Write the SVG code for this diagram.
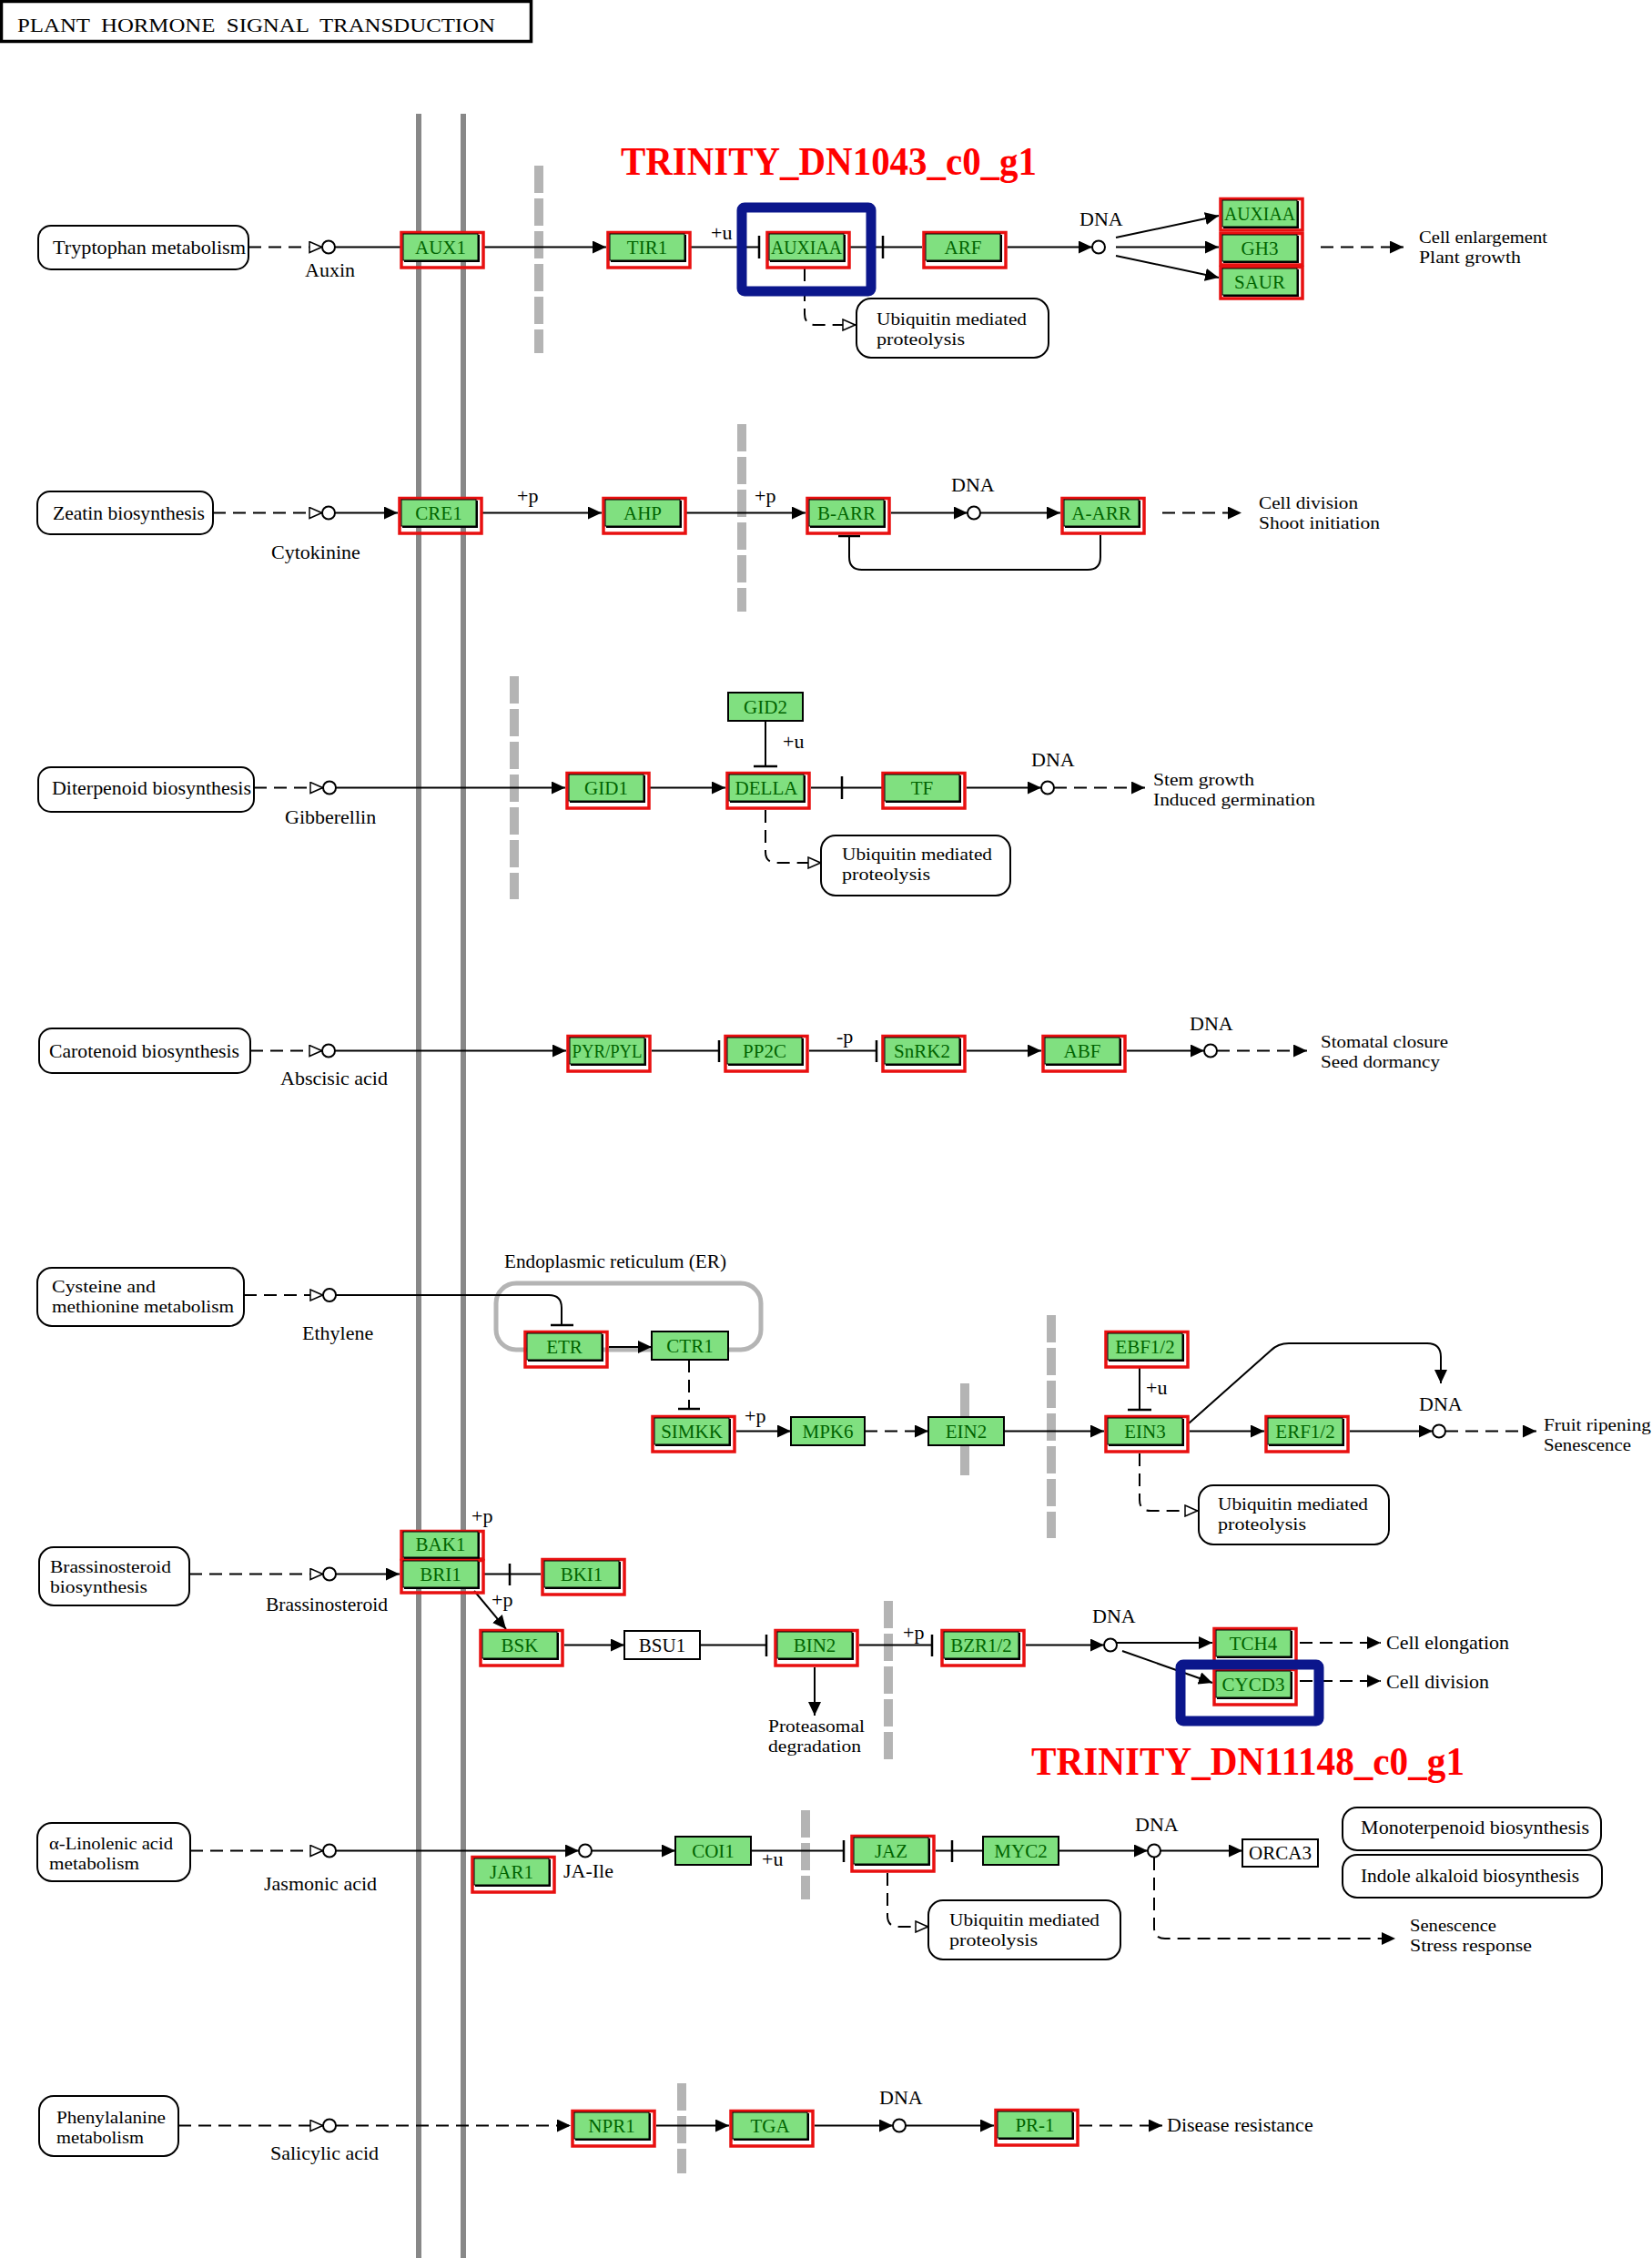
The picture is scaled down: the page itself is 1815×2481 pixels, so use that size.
<svg xmlns="http://www.w3.org/2000/svg" width="1815" height="2481" viewBox="0 0 1815 2481">
<defs>
<style>
.ln{fill:none;stroke:#000;stroke-width:2}
.dl{fill:none;stroke:#000;stroke-width:2;stroke-dasharray:14 8}
.br{fill:none;stroke:#000;stroke-width:2.5}
.t{font-family:"Liberation Serif","Times New Roman",serif;font-size:22px;fill:#000}
.t2{font-family:"Liberation Serif","Times New Roman",serif;font-size:19px;fill:#000}
.gl{font-family:"Liberation Serif","Times New Roman",serif;font-size:21px;fill:#006400;text-anchor:middle}
.wl{font-family:"Liberation Serif","Times New Roman",serif;font-size:21px;fill:#000;text-anchor:middle}
.gb{fill:#80e080;stroke:#000;stroke-width:1}
.pb{fill:#80e080;stroke:#000;stroke-width:2}
.wb{fill:#fff;stroke:#000;stroke-width:2}
.hl{fill:none;stroke:#e81010;stroke-width:3.5}
.sh{fill:none;stroke:#000;stroke-width:2}
.mp{fill:#fff;stroke:#000;stroke-width:2}
.c{fill:#fff;stroke:#000;stroke-width:2}
.mem{stroke:#888;stroke-width:6}
.gbar{stroke:#b4b4b4;stroke-width:10;stroke-dasharray:30 6}
.blue{fill:none;stroke:#0b168c;stroke-width:11}
.tr{font-family:"Liberation Serif","Times New Roman",serif;font-weight:bold;font-size:44px;fill:#ff0000}
</style>
<marker id="a" markerWidth="15" markerHeight="14" refX="15" refY="7" orient="auto" markerUnits="userSpaceOnUse"><path d="M0,0 L15,7 L0,14 Z" fill="#000"/></marker>
<marker id="o" markerWidth="16" markerHeight="14" refX="15" refY="7" orient="auto" markerUnits="userSpaceOnUse"><path d="M1,1 L14.5,7 L1,13 Z" fill="#fff" stroke="#000" stroke-width="1.5"/></marker>
</defs>
<rect width="1815" height="2481" fill="#fff"/>

<g id="title">
<rect x="1.5" y="1.5" width="582" height="44" fill="#fff" stroke="#000" stroke-width="3.5"/>
<text class="t" x="19" y="35" font-size="26" textLength="525" lengthAdjust="spacingAndGlyphs" xml:space="preserve">PLANT  HORMONE  SIGNAL  TRANSDUCTION</text>
</g>

<g id="membranes">
<line class="mem" x1="460" y1="125" x2="460" y2="2481"/>
<line class="mem" x1="509" y1="125" x2="509" y2="2481"/>
<line class="gbar" x1="592" y1="182" x2="592" y2="388"/>
<line class="gbar" x1="815" y1="466" x2="815" y2="672"/>
<line class="gbar" x1="565" y1="743" x2="565" y2="988"/>
<line class="gbar" x1="1155" y1="1445" x2="1155" y2="1690"/>
<line stroke="#b4b4b4" stroke-width="10" x1="1060" y1="1520" x2="1060" y2="1621"/>
<line class="gbar" x1="976" y1="1759" x2="976" y2="1933"/>
<line class="gbar" x1="885" y1="1989" x2="885" y2="2087"/>
<line class="gbar" x1="749" y1="2289" x2="749" y2="2388"/>
<rect x="545" y="1410" width="291" height="73" rx="22" fill="none" stroke="#b4b4b4" stroke-width="5"/>
</g>

<g id="connectors">
<!-- row 1 -->
<path class="dl" d="M273,271.5H354" marker-end="url(#o)"/>
<path class="ln" d="M368,271.5H441"/>
<path class="ln" d="M531,271.5H666" marker-end="url(#a)"/>
<path class="ln" d="M757,271.5H834"/><path class="br" d="M834,259V284"/>
<path class="ln" d="M934,271.5H1013"/><path class="br" d="M970,259V284"/>
<path class="ln" d="M1107,271.5H1200" marker-end="url(#a)"/>
<path class="ln" d="M1226,261L1339,237" marker-end="url(#a)"/>
<path class="ln" d="M1226,271.5H1339" marker-end="url(#a)"/>
<path class="ln" d="M1226,281L1339,305" marker-end="url(#a)"/>
<path class="dl" d="M1451,271.5H1542" marker-end="url(#a)"/>
<path class="dl" d="M884,295V345Q884,357 896,357H940" marker-end="url(#o)"/>
<!-- row 2 -->
<path class="dl" d="M234,563.5H354" marker-end="url(#o)"/>
<path class="ln" d="M368,563.5H437" marker-end="url(#a)"/>
<path class="ln" d="M530,563.5H661" marker-end="url(#a)"/>
<path class="ln" d="M754,563.5H885" marker-end="url(#a)"/>
<path class="ln" d="M979,563.5H1063" marker-end="url(#a)"/>
<path class="ln" d="M1077,563.5H1165" marker-end="url(#a)"/>
<path class="dl" d="M1277,563.5H1364" marker-end="url(#a)"/>
<path class="ln" d="M1209,588V612Q1209,626 1195,626H947Q933,626 933,612V590"/><path class="br" d="M921,589H945"/>
<!-- row 3 -->
<path class="dl" d="M279,865.5H355" marker-end="url(#o)"/>
<path class="ln" d="M369,865.5H621" marker-end="url(#a)"/>
<path class="ln" d="M714,865.5H797" marker-end="url(#a)"/>
<path class="ln" d="M841,792V842"/><path class="br" d="M828,842H854"/>
<path class="ln" d="M891,865.5H970"/><path class="br" d="M925,853V878"/>
<path class="ln" d="M1062,865.5H1144" marker-end="url(#a)"/>
<path class="dl" d="M1158,865.5H1258" marker-end="url(#a)"/>
<path class="dl" d="M841,890V936Q841,948 853,948H902" marker-end="url(#o)"/>
<!-- row 4 -->
<path class="dl" d="M275,1154.5H354" marker-end="url(#o)"/>
<path class="ln" d="M368,1154.5H622" marker-end="url(#a)"/>
<path class="ln" d="M716,1154.5H790"/><path class="br" d="M790,1143V1167"/>
<path class="ln" d="M889,1154.5H963"/><path class="br" d="M963,1143V1167"/>
<path class="ln" d="M1062,1154.5H1144" marker-end="url(#a)"/>
<path class="ln" d="M1238,1154.5H1323" marker-end="url(#a)"/>
<path class="dl" d="M1337,1154.5H1436" marker-end="url(#a)"/>
<!-- row 5 -->
<path class="dl" d="M268,1423H355" marker-end="url(#o)"/>
<path class="ln" d="M369,1423H603Q617,1423 617,1437V1456"/><path class="br" d="M605,1456H630"/>
<path class="ln" d="M669,1480H716" marker-end="url(#a)"/>
<path class="dl" d="M757,1494V1548"/><path class="br" d="M745,1548H769"/>
<path class="ln" d="M809,1572.5H869" marker-end="url(#a)"/>
<path class="dl" d="M950,1572.5H1020" marker-end="url(#a)"/>
<path class="ln" d="M1103,1572.5H1213" marker-end="url(#a)"/>
<path class="ln" d="M1252,1502V1549"/><path class="br" d="M1239,1549H1265"/>
<path class="ln" d="M1307,1572.5H1389" marker-end="url(#a)"/>
<path class="ln" d="M1483,1572.5H1574" marker-end="url(#a)"/>
<path class="dl" d="M1588,1572.5H1688" marker-end="url(#a)"/>
<path class="ln" d="M1306,1564L1396,1484Q1404,1476 1416,1476H1568Q1583,1476 1583,1491V1520" marker-end="url(#a)"/>
<path class="dl" d="M1252,1597V1648Q1252,1660 1264,1660H1316" marker-end="url(#o)"/>
<!-- row 6 -->
<path class="dl" d="M208,1729.5H355" marker-end="url(#o)"/>
<path class="ln" d="M369,1729.5H439" marker-end="url(#a)"/>
<path class="ln" d="M531,1729.5H594"/><path class="br" d="M560,1718V1742"/>
<path class="ln" d="M521,1748L556,1790" marker-end="url(#a)"/>
<path class="ln" d="M620,1807.5H686" marker-end="url(#a)"/>
<path class="ln" d="M769,1807.5H842"/><path class="br" d="M842,1796V1820"/>
<path class="ln" d="M895,1832V1885" marker-end="url(#a)"/>
<path class="ln" d="M944,1807.5H1024"/><path class="br" d="M1024,1796V1820"/>
<path class="ln" d="M1127,1807.5H1213" marker-end="url(#a)"/>
<path class="ln" d="M1227,1805H1332" marker-end="url(#a)"/>
<path class="ln" d="M1233,1814L1332,1849" marker-end="url(#a)"/>
<path class="dl" d="M1428,1805H1517" marker-end="url(#a)"/>
<path class="dl" d="M1428,1847H1517" marker-end="url(#a)"/>
<!-- row 7 -->
<path class="dl" d="M209,2033.5H355" marker-end="url(#o)"/>
<path class="ln" d="M369,2033.5H636" marker-end="url(#a)"/>
<path class="ln" d="M650,2033.5H742" marker-end="url(#a)"/>
<path class="ln" d="M825,2033.5H927"/><path class="br" d="M927,2022V2046"/>
<path class="ln" d="M1028,2033.5H1080"/><path class="br" d="M1046,2022V2046"/>
<path class="ln" d="M1163,2033.5H1261" marker-end="url(#a)"/>
<path class="ln" d="M1275,2033.5H1365" marker-end="url(#a)"/>
<path class="dl" d="M1268,2041V2118Q1268,2130 1280,2130H1533" marker-end="url(#a)"/>
<path class="dl" d="M975,2058V2105Q975,2117 987,2117H1020" marker-end="url(#o)"/>
<!-- row 8 -->
<path class="dl" d="M196,2335.5H355" marker-end="url(#o)"/>
<path class="dl" d="M369,2335.5H627" marker-end="url(#a)"/>
<path class="ln" d="M721,2335.5H801" marker-end="url(#a)"/>
<path class="ln" d="M895,2335.5H981" marker-end="url(#a)"/>
<path class="ln" d="M995,2335.5H1092" marker-end="url(#a)"/>
<path class="dl" d="M1186,2335.5H1277" marker-end="url(#a)"/>
<!-- compound circles -->
<circle class="c" cx="361" cy="271.5" r="7"/>
<circle class="c" cx="1207" cy="271.5" r="7"/>
<circle class="c" cx="361" cy="563.5" r="7"/>
<circle class="c" cx="1070" cy="563.5" r="7"/>
<circle class="c" cx="362" cy="865.5" r="7"/>
<circle class="c" cx="1151" cy="865.5" r="7"/>
<circle class="c" cx="361" cy="1154.5" r="7"/>
<circle class="c" cx="1330" cy="1154.5" r="7"/>
<circle class="c" cx="362" cy="1423" r="7"/>
<circle class="c" cx="1581" cy="1572.5" r="7"/>
<circle class="c" cx="362" cy="1729.5" r="7"/>
<circle class="c" cx="1220" cy="1807.5" r="7"/>
<circle class="c" cx="362" cy="2033.5" r="7"/>
<circle class="c" cx="643" cy="2033.5" r="7"/>
<circle class="c" cx="1268" cy="2033.5" r="7"/>
<circle class="c" cx="362" cy="2335.5" r="7"/>
<circle class="c" cx="988" cy="2335.5" r="7"/>
</g>

<g id="maps">
<g id="m-trp"><rect class="mp" x="42" y="248" width="231" height="48" rx="14"/><text class="t" x="58" y="279" textLength="212" lengthAdjust="spacingAndGlyphs">Tryptophan metabolism</text></g>
<g id="m-zea"><rect class="mp" x="41" y="540" width="193" height="47" rx="14"/><text class="t" x="58" y="571" textLength="167" lengthAdjust="spacingAndGlyphs">Zeatin biosynthesis</text></g>
<g id="m-dit"><rect class="mp" x="42" y="843" width="237" height="49" rx="14"/><text class="t" x="57" y="873" textLength="219" lengthAdjust="spacingAndGlyphs">Diterpenoid biosynthesis</text></g>
<g id="m-car"><rect class="mp" x="43" y="1130" width="232" height="49" rx="14"/><text class="t" x="54" y="1162" textLength="209" lengthAdjust="spacingAndGlyphs">Carotenoid biosynthesis</text></g>
<g id="m-cys"><rect class="mp" x="41" y="1393" width="227" height="64" rx="16"/><text class="t2" x="57" y="1420" textLength="114" lengthAdjust="spacingAndGlyphs">Cysteine and</text><text class="t2" x="57" y="1441.5" textLength="200" lengthAdjust="spacingAndGlyphs">methionine metabolism</text></g>
<g id="m-bra"><rect class="mp" x="43" y="1700" width="165" height="64" rx="16"/><text class="t2" x="55" y="1728" textLength="133" lengthAdjust="spacingAndGlyphs">Brassinosteroid</text><text class="t2" x="55" y="1749.5" textLength="107" lengthAdjust="spacingAndGlyphs">biosynthesis</text></g>
<g id="m-lin"><rect class="mp" x="41" y="2003" width="168" height="64" rx="16"/><text class="t2" x="54" y="2032" textLength="136" lengthAdjust="spacingAndGlyphs">α-Linolenic acid</text><text class="t2" x="54" y="2053.5" textLength="99" lengthAdjust="spacingAndGlyphs">metabolism</text></g>
<g id="m-phe"><rect class="mp" x="43" y="2303" width="153" height="66" rx="16"/><text class="t2" x="62" y="2333" textLength="120" lengthAdjust="spacingAndGlyphs">Phenylalanine</text><text class="t2" x="62" y="2354.5" textLength="96" lengthAdjust="spacingAndGlyphs">metabolism</text></g>
<g id="m-ub1"><rect class="mp" x="941" y="328" width="211" height="65" rx="16"/><text class="t2" x="963" y="357" textLength="165" lengthAdjust="spacingAndGlyphs">Ubiquitin mediated</text><text class="t2" x="963" y="378.5" textLength="97" lengthAdjust="spacingAndGlyphs">proteolysis</text></g>
<g id="m-ub3"><rect class="mp" x="902" y="918" width="208" height="66" rx="16"/><text class="t2" x="925" y="945" textLength="165" lengthAdjust="spacingAndGlyphs">Ubiquitin mediated</text><text class="t2" x="925" y="966.5" textLength="97" lengthAdjust="spacingAndGlyphs">proteolysis</text></g>
<g id="m-ub5"><rect class="mp" x="1317" y="1632" width="209" height="65" rx="16"/><text class="t2" x="1338" y="1659" textLength="165" lengthAdjust="spacingAndGlyphs">Ubiquitin mediated</text><text class="t2" x="1338" y="1680.5" textLength="97" lengthAdjust="spacingAndGlyphs">proteolysis</text></g>
<g id="m-ub7"><rect class="mp" x="1020" y="2088" width="211" height="65" rx="16"/><text class="t2" x="1043" y="2116" textLength="165" lengthAdjust="spacingAndGlyphs">Ubiquitin mediated</text><text class="t2" x="1043" y="2137.5" textLength="97" lengthAdjust="spacingAndGlyphs">proteolysis</text></g>
<g id="m-mono"><rect class="mp" x="1475" y="1986" width="284" height="47" rx="16"/><text class="t" x="1495" y="2015" textLength="251" lengthAdjust="spacingAndGlyphs">Monoterpenoid biosynthesis</text></g>
<g id="m-ind"><rect class="mp" x="1475" y="2038" width="285" height="47" rx="16"/><text class="t" x="1495" y="2068" textLength="240" lengthAdjust="spacingAndGlyphs">Indole alkaloid biosynthesis</text></g>
</g>

<g id="genes">
<g id="AUX1"><rect class="hl" x="441" y="255.5" width="90" height="38.5"/><rect class="gb" x="443" y="257" width="82" height="29"/><path class="sh" d="M444,287H526V258"/><text class="gl" x="484" y="279">AUX1</text></g>
<g id="TIR1"><rect class="hl" x="668" y="255.5" width="90" height="38.5"/><rect class="gb" x="670" y="257" width="82" height="29"/><path class="sh" d="M671,287H753V258"/><text class="gl" x="711" y="279">TIR1</text></g>
<g id="AUXIAA-1"><rect class="hl" x="843" y="255.5" width="90" height="38.5"/><rect class="gb" x="845" y="257" width="82" height="29"/><path class="sh" d="M846,287H928V258"/><text class="gl" x="886" y="279" textLength="78" lengthAdjust="spacingAndGlyphs">AUXIAA</text></g>
<g id="ARF"><rect class="hl" x="1015" y="255.5" width="90" height="38.5"/><rect class="gb" x="1017" y="257" width="82" height="29"/><path class="sh" d="M1018,287H1100V258"/><text class="gl" x="1058" y="279">ARF</text></g>
<g id="AUXIAA-2"><rect class="hl" x="1341" y="218.5" width="90" height="34.5"/><rect class="gb" x="1343" y="220" width="82" height="29"/><path class="sh" d="M1344,250H1426V221"/><text class="gl" x="1384" y="242" textLength="78" lengthAdjust="spacingAndGlyphs">AUXIAA</text></g>
<g id="GH3"><rect class="hl" x="1341" y="256.5" width="90" height="34.5"/><rect class="gb" x="1343" y="258" width="82" height="29"/><path class="sh" d="M1344,288H1426V259"/><text class="gl" x="1384" y="280">GH3</text></g>
<g id="SAUR"><rect class="hl" x="1341" y="293.5" width="90" height="34.5"/><rect class="gb" x="1343" y="295" width="82" height="29"/><path class="sh" d="M1344,325H1426V296"/><text class="gl" x="1384" y="317">SAUR</text></g>
<g id="CRE1"><rect class="hl" x="439" y="547.5" width="90" height="38.5"/><rect class="gb" x="441" y="549" width="82" height="29"/><path class="sh" d="M442,579H524V550"/><text class="gl" x="482" y="571">CRE1</text></g>
<g id="AHP"><rect class="hl" x="663" y="547.5" width="90" height="38.5"/><rect class="gb" x="665" y="549" width="82" height="29"/><path class="sh" d="M666,579H748V550"/><text class="gl" x="706" y="571">AHP</text></g>
<g id="B-ARR"><rect class="hl" x="887" y="547.5" width="90" height="38.5"/><rect class="gb" x="889" y="549" width="82" height="29"/><path class="sh" d="M890,579H972V550"/><text class="gl" x="930" y="571">B-ARR</text></g>
<g id="A-ARR"><rect class="hl" x="1167" y="547.5" width="90" height="38.5"/><rect class="gb" x="1169" y="549" width="82" height="29"/><path class="sh" d="M1170,579H1252V550"/><text class="gl" x="1210" y="571">A-ARR</text></g>
<g id="GID1"><rect class="hl" x="623" y="849.5" width="90" height="38.5"/><rect class="gb" x="625" y="851" width="82" height="29"/><path class="sh" d="M626,881H708V852"/><text class="gl" x="666" y="873">GID1</text></g>
<g id="DELLA"><rect class="hl" x="799" y="849.5" width="90" height="38.5"/><rect class="gb" x="801" y="851" width="82" height="29"/><path class="sh" d="M802,881H884V852"/><text class="gl" x="842" y="873">DELLA</text></g>
<g id="TF"><rect class="hl" x="970" y="849.5" width="90" height="38.5"/><rect class="gb" x="972" y="851" width="82" height="29"/><path class="sh" d="M973,881H1055V852"/><text class="gl" x="1013" y="873">TF</text></g>
<g id="GID2"><rect class="pb" x="800" y="761" width="82" height="31"/><text class="gl" x="841" y="784">GID2</text></g>
<g id="PYR-PYL"><rect class="hl" x="624" y="1138.5" width="90" height="38.5"/><rect class="gb" x="626" y="1140" width="82" height="29"/><path class="sh" d="M627,1170H709V1141"/><text class="gl" x="667" y="1162" textLength="77" lengthAdjust="spacingAndGlyphs">PYR/PYL</text></g>
<g id="PP2C"><rect class="hl" x="797" y="1138.5" width="90" height="38.5"/><rect class="gb" x="799" y="1140" width="82" height="29"/><path class="sh" d="M800,1170H882V1141"/><text class="gl" x="840" y="1162">PP2C</text></g>
<g id="SnRK2"><rect class="hl" x="970" y="1138.5" width="90" height="38.5"/><rect class="gb" x="972" y="1140" width="82" height="29"/><path class="sh" d="M973,1170H1055V1141"/><text class="gl" x="1013" y="1162">SnRK2</text></g>
<g id="ABF"><rect class="hl" x="1146" y="1138.5" width="90" height="38.5"/><rect class="gb" x="1148" y="1140" width="82" height="29"/><path class="sh" d="M1149,1170H1231V1141"/><text class="gl" x="1189" y="1162">ABF</text></g>
<g id="ETR"><rect class="hl" x="577" y="1463.5" width="90" height="38.5"/><rect class="gb" x="579" y="1465" width="82" height="29"/><path class="sh" d="M580,1495H662V1466"/><text class="gl" x="620" y="1487">ETR</text></g>
<g id="CTR1"><rect class="pb" x="716" y="1463" width="84" height="31"/><text class="gl" x="758" y="1486">CTR1</text></g>
<g id="SIMKK"><rect class="hl" x="717" y="1556.5" width="90" height="38.5"/><rect class="gb" x="719" y="1558" width="82" height="29"/><path class="sh" d="M720,1588H802V1559"/><text class="gl" x="760" y="1580">SIMKK</text></g>
<g id="MPK6"><rect class="pb" x="869" y="1557" width="81" height="31"/><text class="gl" x="909.5" y="1580">MPK6</text></g>
<g id="EIN2"><rect class="pb" x="1020" y="1557" width="83" height="31"/><text class="gl" x="1061.5" y="1580">EIN2</text></g>
<g id="EBF1-2"><rect class="hl" x="1215" y="1463.5" width="90" height="38.5"/><rect class="gb" x="1217" y="1465" width="82" height="29"/><path class="sh" d="M1218,1495H1300V1466"/><text class="gl" x="1258" y="1487">EBF1/2</text></g>
<g id="EIN3"><rect class="hl" x="1215" y="1556.5" width="90" height="38.5"/><rect class="gb" x="1217" y="1558" width="82" height="29"/><path class="sh" d="M1218,1588H1300V1559"/><text class="gl" x="1258" y="1580">EIN3</text></g>
<g id="ERF1-2"><rect class="hl" x="1391" y="1556.5" width="90" height="38.5"/><rect class="gb" x="1393" y="1558" width="82" height="29"/><path class="sh" d="M1394,1588H1476V1559"/><text class="gl" x="1434" y="1580">ERF1/2</text></g>
<g id="BAK1"><rect class="hl" x="441" y="1682.5" width="90" height="30.5"/><rect class="gb" x="443" y="1683" width="82" height="28"/><path class="sh" d="M444,1712H526V1684"/><text class="gl" x="484" y="1704">BAK1</text></g>
<g id="BRI1"><rect class="hl" x="441" y="1714.5" width="90" height="35.5"/><rect class="gb" x="443" y="1715" width="82" height="29"/><path class="sh" d="M444,1745H526V1716"/><text class="gl" x="484" y="1737">BRI1</text></g>
<g id="BKI1"><rect class="hl" x="596" y="1713.5" width="90" height="38.5"/><rect class="gb" x="598" y="1715" width="82" height="29"/><path class="sh" d="M599,1745H681V1716"/><text class="gl" x="639" y="1737">BKI1</text></g>
<g id="BSK"><rect class="hl" x="528" y="1791.5" width="90" height="38.5"/><rect class="gb" x="530" y="1793" width="82" height="29"/><path class="sh" d="M531,1823H613V1794"/><text class="gl" x="571" y="1815">BSK</text></g>
<g id="BSU1"><rect class="wb" x="686" y="1792" width="83" height="31"/><text class="wl" x="727.5" y="1815">BSU1</text></g>
<g id="BIN2"><rect class="hl" x="852" y="1791.5" width="90" height="38.5"/><rect class="gb" x="854" y="1793" width="82" height="29"/><path class="sh" d="M855,1823H937V1794"/><text class="gl" x="895" y="1815">BIN2</text></g>
<g id="BZR1-2"><rect class="hl" x="1035" y="1791.5" width="90" height="38.5"/><rect class="gb" x="1037" y="1793" width="82" height="29"/><path class="sh" d="M1038,1823H1120V1794"/><text class="gl" x="1078" y="1815">BZR1/2</text></g>
<g id="TCH4"><rect class="hl" x="1334" y="1789.5" width="90" height="38.5"/><rect class="gb" x="1336" y="1791" width="82" height="29"/><path class="sh" d="M1337,1821H1419V1792"/><text class="gl" x="1377" y="1813">TCH4</text></g>
<g id="CYCD3"><rect class="hl" x="1334" y="1834.5" width="90" height="38.5"/><rect class="gb" x="1336" y="1836" width="82" height="29"/><path class="sh" d="M1337,1866H1419V1837"/><text class="gl" x="1377" y="1858">CYCD3</text></g>
<g id="JAR1"><rect class="hl" x="519" y="2040.5" width="90" height="38.5"/><rect class="gb" x="521" y="2042" width="82" height="29"/><path class="sh" d="M522,2072H604V2043"/><text class="gl" x="562" y="2064">JAR1</text></g>
<g id="COI1"><rect class="pb" x="742" y="2018" width="83" height="31"/><text class="gl" x="783.5" y="2041">COI1</text></g>
<g id="JAZ"><rect class="hl" x="936" y="2017.5" width="90" height="38.5"/><rect class="gb" x="938" y="2019" width="82" height="29"/><path class="sh" d="M939,2049H1021V2020"/><text class="gl" x="979" y="2041">JAZ</text></g>
<g id="MYC2"><rect class="pb" x="1080" y="2018" width="83" height="31"/><text class="gl" x="1121.5" y="2041">MYC2</text></g>
<g id="ORCA3"><rect class="wb" x="1365" y="2021" width="83" height="30"/><text class="wl" x="1406.5" y="2043">ORCA3</text></g>
<g id="NPR1"><rect class="hl" x="629" y="2319.5" width="90" height="38.5"/><rect class="gb" x="631" y="2321" width="82" height="29"/><path class="sh" d="M632,2351H714V2322"/><text class="gl" x="672" y="2343">NPR1</text></g>
<g id="TGA"><rect class="hl" x="803" y="2319.5" width="90" height="38.5"/><rect class="gb" x="805" y="2321" width="82" height="29"/><path class="sh" d="M806,2351H888V2322"/><text class="gl" x="846" y="2343">TGA</text></g>
<g id="PR-1"><rect class="hl" x="1094" y="2318.5" width="90" height="38.5"/><rect class="gb" x="1096" y="2320" width="82" height="29"/><path class="sh" d="M1097,2350H1179V2321"/><text class="gl" x="1137" y="2342">PR-1</text></g>
</g>

<g id="highlights">
<rect class="blue" x="815" y="228" width="142" height="92" rx="3"/>
<rect class="blue" x="1297" y="1829" width="152" height="62" rx="3"/>
<text class="tr" x="682" y="192" textLength="457" lengthAdjust="spacingAndGlyphs">TRINITY_DN1043_c0_g1</text>
<text class="tr" x="1133" y="1950" textLength="476" lengthAdjust="spacingAndGlyphs">TRINITY_DN11148_c0_g1</text>
</g>

<g id="labels">
<text class="t" x="335" y="304">Auxin</text>
<text class="t" x="298" y="614">Cytokinine</text>
<text class="t" x="313" y="905">Gibberellin</text>
<text class="t" x="308" y="1192">Abscisic acid</text>
<text class="t" x="332" y="1472">Ethylene</text>
<text class="t" x="292" y="1770" textLength="134" lengthAdjust="spacingAndGlyphs">Brassinosteroid</text>
<text class="t" x="290" y="2077">Jasmonic acid</text>
<text class="t" x="297" y="2373">Salicylic acid</text>
<text class="t" x="619" y="2063">JA-Ile</text>
<text class="t" x="1186" y="248">DNA</text>
<text class="t" x="1045" y="540">DNA</text>
<text class="t" x="1133" y="842">DNA</text>
<text class="t" x="1307" y="1132">DNA</text>
<text class="t" x="1559" y="1550">DNA</text>
<text class="t" x="1200" y="1783">DNA</text>
<text class="t" x="1247" y="2012">DNA</text>
<text class="t" x="966" y="2312">DNA</text>
<text class="t" x="781" y="263">+u</text>
<text class="t" x="860" y="822">+u</text>
<text class="t" x="1259" y="1532">+u</text>
<text class="t" x="837" y="2050">+u</text>
<text class="t" x="568" y="552">+p</text>
<text class="t" x="829" y="552">+p</text>
<text class="t" x="818" y="1563">+p</text>
<text class="t" x="518" y="1673">+p</text>
<text class="t" x="540" y="1765">+p</text>
<text class="t" x="992" y="1801">+p</text>
<text class="t" x="919" y="1146">-p</text>
<text class="t2" x="1559" y="267" textLength="141" lengthAdjust="spacingAndGlyphs">Cell enlargement</text>
<text class="t2" x="1559" y="288.5" textLength="112" lengthAdjust="spacingAndGlyphs">Plant growth</text>
<text class="t2" x="1383" y="559" textLength="109" lengthAdjust="spacingAndGlyphs">Cell division</text>
<text class="t2" x="1383" y="580.5" textLength="133" lengthAdjust="spacingAndGlyphs">Shoot initiation</text>
<text class="t2" x="1267" y="863" textLength="111" lengthAdjust="spacingAndGlyphs">Stem growth</text>
<text class="t2" x="1267" y="884.5" textLength="178" lengthAdjust="spacingAndGlyphs">Induced germination</text>
<text class="t2" x="1451" y="1151" textLength="140" lengthAdjust="spacingAndGlyphs">Stomatal closure</text>
<text class="t2" x="1451" y="1172.5" textLength="131" lengthAdjust="spacingAndGlyphs">Seed dormancy</text>
<text class="t2" x="1696" y="1572" textLength="118" lengthAdjust="spacingAndGlyphs">Fruit ripening</text>
<text class="t2" x="1696" y="1593.5" textLength="96" lengthAdjust="spacingAndGlyphs">Senescence</text>
<text class="t" x="554" y="1393" textLength="244" lengthAdjust="spacingAndGlyphs">Endoplasmic reticulum (ER)</text>
<text class="t2" x="844" y="1903" textLength="106" lengthAdjust="spacingAndGlyphs">Proteasomal</text>
<text class="t2" x="844" y="1924.5" textLength="102" lengthAdjust="spacingAndGlyphs">degradation</text>
<text class="t" x="1523" y="1812">Cell elongation</text>
<text class="t" x="1523" y="1855">Cell division</text>
<text class="t2" x="1549" y="2122" textLength="95" lengthAdjust="spacingAndGlyphs">Senescence</text>
<text class="t2" x="1549" y="2143.5" textLength="134" lengthAdjust="spacingAndGlyphs">Stress response</text>
<text class="t" x="1282" y="2342">Disease resistance</text>
</g>
</svg>
